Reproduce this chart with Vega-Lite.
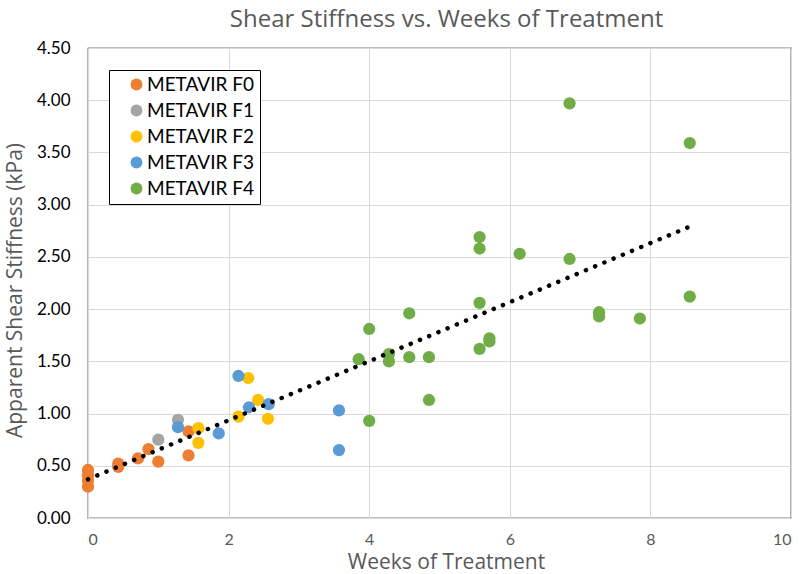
{
  "$schema": "https://vega.github.io/schema/vega-lite/v6.json",
  "width": 703,
  "height": 470,
  "autosize": {"type": "none"},
  "padding": {"left": 88, "top": 48, "right": 9, "bottom": 56},
  "title": {
    "text": "Shear Stiffness vs. Weeks of Treatment",
    "font": "Open Sans",
    "fontSize": 24,
    "fontWeight": "normal",
    "color": "#595959",
    "anchor": "middle",
    "dx": 7,
    "offset": 7
  },
  "config": {
    "view": {"stroke": "#000000", "strokeWidth": 1.2},
    "axis": {
      "grid": true,
      "gridColor": "#D9D9D9",
      "gridWidth": 1,
      "domainColor": "#D9D9D9",
      "domainWidth": 1.2,
      "ticks": false,
      "labelFont": "Lato",
      "labelFontSize": 17,
      "titleFont": "Open Sans",
      "titleFontSize": 22,
      "titleFontWeight": "normal",
      "titleColor": "#595959"
    }
  },
  "datasets": {
    "pts": [
      {"weeks": 0, "stiffness": 0.46, "stage": "METAVIR F0"},
      {"weeks": 0, "stiffness": 0.41, "stage": "METAVIR F0"},
      {"weeks": 0, "stiffness": 0.36, "stage": "METAVIR F0"},
      {"weeks": 0, "stiffness": 0.30, "stage": "METAVIR F0"},
      {"weeks": 0.43, "stiffness": 0.52, "stage": "METAVIR F0"},
      {"weeks": 0.43, "stiffness": 0.49, "stage": "METAVIR F0"},
      {"weeks": 0.71, "stiffness": 0.57, "stage": "METAVIR F0"},
      {"weeks": 0.86, "stiffness": 0.66, "stage": "METAVIR F0"},
      {"weeks": 1.0, "stiffness": 0.54, "stage": "METAVIR F0"},
      {"weeks": 1.43, "stiffness": 0.83, "stage": "METAVIR F0"},
      {"weeks": 1.43, "stiffness": 0.60, "stage": "METAVIR F0"},
      {"weeks": 1.0, "stiffness": 0.75, "stage": "METAVIR F1"},
      {"weeks": 1.28, "stiffness": 0.94, "stage": "METAVIR F1"},
      {"weeks": 1.57, "stiffness": 0.86, "stage": "METAVIR F2"},
      {"weeks": 1.57, "stiffness": 0.72, "stage": "METAVIR F2"},
      {"weeks": 2.28, "stiffness": 1.34, "stage": "METAVIR F2"},
      {"weeks": 2.14, "stiffness": 0.97, "stage": "METAVIR F2"},
      {"weeks": 2.42, "stiffness": 1.13, "stage": "METAVIR F2"},
      {"weeks": 2.56, "stiffness": 0.95, "stage": "METAVIR F2"},
      {"weeks": 1.28, "stiffness": 0.87, "stage": "METAVIR F3"},
      {"weeks": 1.86, "stiffness": 0.81, "stage": "METAVIR F3"},
      {"weeks": 2.14, "stiffness": 1.36, "stage": "METAVIR F3"},
      {"weeks": 2.29, "stiffness": 1.06, "stage": "METAVIR F3"},
      {"weeks": 2.57, "stiffness": 1.09, "stage": "METAVIR F3"},
      {"weeks": 3.57, "stiffness": 1.03, "stage": "METAVIR F3"},
      {"weeks": 3.57, "stiffness": 0.65, "stage": "METAVIR F3"},
      {"weeks": 3.85, "stiffness": 1.52, "stage": "METAVIR F4"},
      {"weeks": 4.0, "stiffness": 1.81, "stage": "METAVIR F4"},
      {"weeks": 4.0, "stiffness": 0.93, "stage": "METAVIR F4"},
      {"weeks": 4.28, "stiffness": 1.57, "stage": "METAVIR F4"},
      {"weeks": 4.28, "stiffness": 1.50, "stage": "METAVIR F4"},
      {"weeks": 4.57, "stiffness": 1.96, "stage": "METAVIR F4"},
      {"weeks": 4.57, "stiffness": 1.54, "stage": "METAVIR F4"},
      {"weeks": 4.85, "stiffness": 1.54, "stage": "METAVIR F4"},
      {"weeks": 4.85, "stiffness": 1.13, "stage": "METAVIR F4"},
      {"weeks": 5.57, "stiffness": 2.69, "stage": "METAVIR F4"},
      {"weeks": 5.57, "stiffness": 2.58, "stage": "METAVIR F4"},
      {"weeks": 5.57, "stiffness": 2.06, "stage": "METAVIR F4"},
      {"weeks": 5.57, "stiffness": 1.62, "stage": "METAVIR F4"},
      {"weeks": 5.71, "stiffness": 1.72, "stage": "METAVIR F4"},
      {"weeks": 5.71, "stiffness": 1.69, "stage": "METAVIR F4"},
      {"weeks": 6.14, "stiffness": 2.53, "stage": "METAVIR F4"},
      {"weeks": 6.85, "stiffness": 3.97, "stage": "METAVIR F4"},
      {"weeks": 6.85, "stiffness": 2.48, "stage": "METAVIR F4"},
      {"weeks": 7.27, "stiffness": 1.97, "stage": "METAVIR F4"},
      {"weeks": 7.27, "stiffness": 1.93, "stage": "METAVIR F4"},
      {"weeks": 7.85, "stiffness": 1.91, "stage": "METAVIR F4"},
      {"weeks": 8.56, "stiffness": 3.59, "stage": "METAVIR F4"},
      {"weeks": 8.56, "stiffness": 2.12, "stage": "METAVIR F4"}
    ],
    "trend": [
      {"weeks": 0, "stiffness": 0.37},
      {"weeks": 8.56, "stiffness": 2.79}
    ]
  },
  "layer": [
    {
      "data": {"name": "pts"},
      "mark": {"type": "point", "filled": true, "shape": "circle", "size": 150, "opacity": 1},
      "encoding": {
        "x": {
          "field": "weeks",
          "type": "quantitative",
          "scale": {"domain": [0, 10], "nice": false},
          "axis": {
            "title": "Weeks of Treatment",
            "values": [0, 2, 4, 6, 8, 10],
            "format": "d",
            "labelColor": "#595959",
            "labelFontSize": 16,
            "labelPadding": 13,
            "titleFontSize": 21,
            "titleX": 358,
            "titleY": 50,
            "titleBaseline": "alphabetic"
          }
        },
        "y": {
          "field": "stiffness",
          "type": "quantitative",
          "scale": {"domain": [0, 4.5], "nice": false},
          "axis": {
            "title": "Apparent Shear Stiffness (kPa)",
            "values": [0, 0.5, 1, 1.5, 2, 2.5, 3, 3.5, 4, 4.5],
            "format": ".2f",
            "labelColor": "#000000",
            "labelPadding": 18,
            "titleFontSize": 21,
            "titleX": -67,
            "titleY": 242,
            "titleBaseline": "alphabetic"
          }
        },
        "color": {
          "field": "stage",
          "type": "nominal",
          "scale": {
            "domain": ["METAVIR F0", "METAVIR F1", "METAVIR F2", "METAVIR F3", "METAVIR F4"],
            "range": ["#ED7D31", "#A5A5A5", "#FFC000", "#5B9BD5", "#70AD47"]
          },
          "legend": {
            "title": null,
            "orient": "none",
            "legendX": 21,
            "legendY": 22,
            "direction": "vertical",
            "strokeColor": "#000000",
            "fillColor": "#FFFFFF",
            "padding": 5,
            "rowPadding": 6,
            "symbolType": "circle",
            "symbolSize": 140,
            "symbolOpacity": 1,
            "symbolOffset": 13,
            "labelFont": "Lato",
            "labelFontSize": 19,
            "labelColor": "#000000",
            "labelOffset": 1,
            "labelLimit": 300,
            "labelExpr": "datum.label + '  '"
          }
        }
      }
    },
    {
      "data": {"name": "trend"},
      "mark": {"type": "line", "color": "#000000", "strokeWidth": 4.5, "strokeCap": "round", "strokeDash": [0.1, 9.9]},
      "encoding": {
        "x": {"field": "weeks", "type": "quantitative"},
        "y": {"field": "stiffness", "type": "quantitative"}
      }
    }
  ]
}
